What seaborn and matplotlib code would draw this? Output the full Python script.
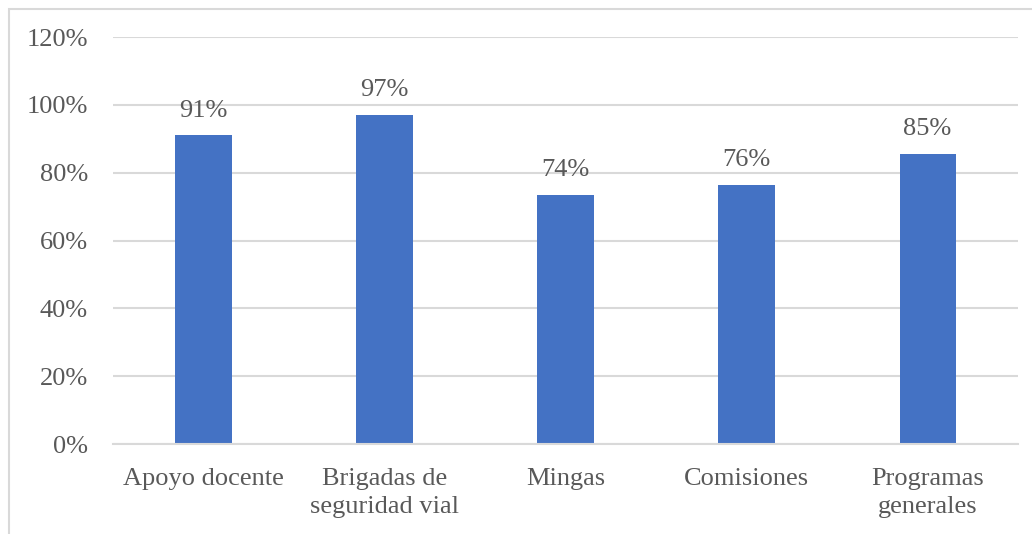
import pandas as pd
import seaborn as sns
import matplotlib.pyplot as plt
from matplotlib.patches import Rectangle
from matplotlib.ticker import PercentFormatter

# --- Datos ---
categorias = ["Apoyo docente", "Brigadas de\nseguridad vial", "Mingas",
              "Comisiones", "Programas\ngenerales"]
valores = [0.91, 0.97, 0.735, 0.765, 0.855]
etiquetas = ["91%", "97%", "74%", "76%", "85%"]
ticks_y = [0, 0.2, 0.4, 0.6, 0.8, 1.0, 1.2]

GRIS = "#595959"
AZUL = "#4472C4"

df = pd.DataFrame({"categoria": categorias, "valor": valores})

sns.set_style("white")
plt.rcParams["font.family"] = ["Liberation Serif", "DejaVu Serif"]

fig = plt.figure(figsize=(10.32, 5.34), dpi=100)
ax = fig.add_axes([0.1095, 0.1685, 0.877, 0.7622])

sns.barplot(data=df, x="categoria", y="valor", color=AZUL, width=0.31,
            saturation=1, linewidth=0, ax=ax)

# etiquetas de datos
for i, (v, t) in enumerate(zip(valores, etiquetas)):
    ax.text(i, v + 0.04, t, ha="center", va="bottom", fontsize=19, color=GRIS)

ax.set_ylim(0, 1.2)
ax.set_xlim(-0.5, len(categorias) - 0.5)
ax.set_yticks(ticks_y)
ax.yaxis.set_major_formatter(PercentFormatter(1.0, decimals=0))
ax.grid(axis="y", color="#d9d9d9", linewidth=1.5)
ax.set_axisbelow(True)
ax.set_xlabel("")
ax.set_ylabel("")
ax.tick_params(axis="both", length=0, labelsize=19, labelcolor=GRIS)
ax.tick_params(axis="y", pad=18)
ax.tick_params(axis="x", pad=17)
for lbl in ax.get_xticklabels():
    lbl.set_linespacing(1.4)
for s in ["top", "right", "left"]:
    ax.spines[s].set_visible(False)
ax.spines["bottom"].set_color("#d9d9d9")
ax.spines["bottom"].set_linewidth(1.5)

# marco del gráfico
fig.patches.append(Rectangle((9 / 1032, -0.05), 1.1, 1 - 9 / 534 + 0.05,
                             transform=fig.transFigure, fill=False,
                             edgecolor="#d9d9d9", linewidth=1.5))

fig.savefig("out.png", dpi=100)
